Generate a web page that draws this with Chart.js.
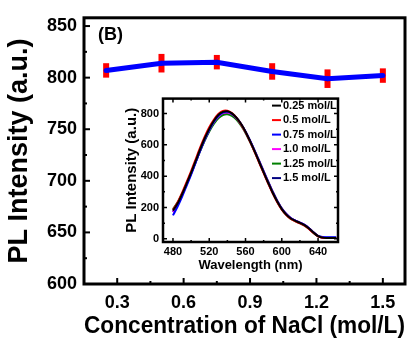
<!DOCTYPE html>
<html>
<head>
<meta charset="utf-8">
<script src="https://cdn.jsdelivr.net/npm/chart.js@4.4.0/dist/chart.umd.min.js"></script>
<style>
  body { margin: 0; background: #fff; }
  #wrap { position: relative; width: 416px; height: 346px; }
  #main-chart { position: absolute; left: 0; top: 0; }
  #inset-chart { position: absolute; left: 112px; top: 88px; }
</style>
</head>
<body>
<div id="wrap">
  <canvas id="main-chart" width="416" height="346"></canvas>
  <canvas id="inset-chart" width="232" height="190"></canvas>
</div>
<script>
// PL peak intensity vs NaCl concentration
const concentrations = [0.25, 0.5, 0.75, 1.0, 1.25, 1.5];
const plIntensity = [807, 814, 815, 806, 799, 802];
const plError = [7, 9, 7, 8, 9, 7];
const concTicks = [0.3, 0.6, 0.9, 1.2, 1.5];
const intensityTicks = [600, 650, 700, 750, 800, 850];

// emission spectra for each concentration
const wavelengths = [480, 485, 490, 495, 500, 505, 510, 515, 520, 525, 530, 535, 540, 545, 550, 555, 560, 565,
    570, 575, 580, 585, 590, 595, 600, 605, 610, 615, 620, 625, 630, 635, 640, 645, 650, 655, 660];
const spectrumLabels = ['0.25 mol/L', '0.5 mol/L', '0.75 mol/L', '1.0 mol/L', '1.25 mol/L', '1.5 mol/L'];
const spectrum025 = [180, 225, 285, 352, 422, 497, 572, 642, 702, 752, 790, 810, 814, 801, 774, 734, 684, 624,
    560, 492, 424, 358, 294, 238, 190, 155, 130, 115, 102, 88, 66, 40, 18, 8, 6, 6, 6];
const spectrum05 = [185, 232, 293, 362, 433, 508, 583, 652, 712, 760, 797, 817, 818, 803, 774, 732, 681, 620,
    555, 487, 419, 353, 290, 234, 187, 152, 127, 112, 99, 85, 63, 37, 16, 7, 5, 5, 5];
const spectrum075 = [150, 205, 268, 338, 410, 487, 563, 634, 695, 746, 784, 806, 811, 799, 773, 734, 685, 626,
    562, 495, 427, 361, 297, 240, 192, 157, 131, 116, 103, 89, 67, 41, 19, 12, 11, 11, 11];
const spectrum10 = [172, 220, 280, 348, 418, 492, 566, 635, 695, 744, 781, 802, 806, 795, 770, 731, 682, 624,
    561, 494, 427, 361, 297, 240, 192, 157, 131, 116, 103, 89, 67, 41, 18, 8, 6, 6, 6];
const spectrum125 = [190, 232, 288, 352, 419, 490, 561, 627, 685, 733, 769, 790, 795, 785, 761, 723, 676, 619,
    557, 491, 424, 358, 294, 237, 189, 153, 128, 113, 100, 86, 64, 38, 16, 7, 5, 5, 5];
const spectrum15 = [172, 220, 280, 348, 417, 490, 563, 632, 692, 741, 778, 798, 803, 793, 769, 731, 684, 627,
    565, 499, 432, 366, 302, 244, 195, 159, 133, 117, 104, 90, 68, 42, 19, 9, 7, 7, 7];
const wavelengthTicks = [480, 520, 560, 600, 640];
const spectrumTicks = [0, 200, 400, 600, 800];

const spectra = [spectrum025, spectrum05, spectrum075, spectrum10, spectrum125, spectrum15];
const spectrumColors = ['#000000', '#ff0000', '#0000ff', '#ff00ff', '#008000', '#000080'];

Chart.defaults.font.family = 'Arial, "Liberation Sans", sans-serif';
Chart.defaults.font.weight = 'bold';
Chart.defaults.color = '#000';

// box around the plot area with inward major/minor ticks
function framePlugin(opts) {
    return {
        id: 'frame',
        afterDatasetsDraw(chart) {
            const { ctx, chartArea: a, scales: { x, y } } = chart;
            const xs = x.ticks.map(t => t.value);
            const ys = y.ticks.map(t => t.value);
            ctx.save();
            ctx.strokeStyle = '#000';
            ctx.lineWidth = opts.tickWidth;
            const tickX = (v, len) => {
                const px = x.getPixelForValue(v);
                ctx.beginPath();
                ctx.moveTo(px, a.bottom);
                ctx.lineTo(px, a.bottom - len);
                if (opts.mirror) {
                    ctx.moveTo(px, a.top);
                    ctx.lineTo(px, a.top + len);
                }
                ctx.stroke();
            };
            const tickY = (v, len) => {
                const py = y.getPixelForValue(v);
                ctx.beginPath();
                ctx.moveTo(a.left, py);
                ctx.lineTo(a.left + len, py);
                if (opts.mirror) {
                    ctx.moveTo(a.right, py);
                    ctx.lineTo(a.right - len, py);
                }
                ctx.stroke();
            };
            xs.forEach(v => tickX(v, opts.major));
            xs.slice(1).forEach((v, i) => tickX((v + xs[i]) / 2, opts.minor));
            ys.forEach(v => tickY(v, opts.major));
            ys.slice(1).forEach((v, i) => tickY((v + ys[i]) / 2, opts.minor));
            ctx.lineWidth = opts.lineWidth;
            ctx.strokeRect(a.left, a.top, a.right - a.left, a.bottom - a.top);
            ctx.restore();
        }
    };
}

// red error bars, drawn under the line
const errorBars = {
    id: 'errorBars',
    beforeDatasetsDraw(chart) {
        const { ctx, scales: { x, y } } = chart;
        ctx.save();
        ctx.strokeStyle = '#ff0000';
        ctx.lineWidth = 6;
        concentrations.forEach((c, i) => {
            const px = x.getPixelForValue(c);
            ctx.beginPath();
            ctx.moveTo(px, y.getPixelForValue(plIntensity[i] - plError[i]));
            ctx.lineTo(px, y.getPixelForValue(plIntensity[i] + plError[i]));
            ctx.stroke();
        });
        ctx.restore();
    }
};

const panelLabel = {
    id: 'panelLabel',
    afterDraw(chart) {
        const { ctx } = chart;
        ctx.save();
        ctx.font = 'bold 18px Arial, "Liberation Sans", sans-serif';
        ctx.fillStyle = '#000';
        ctx.textBaseline = 'middle';
        ctx.fillText('(B)', 98, 35);
        ctx.restore();
    }
};

// legend drawn inside the inset plot, top right
const insetLegend = {
    id: 'insetLegend',
    afterDraw(chart) {
        const { ctx, chartArea: a } = chart;
        ctx.save();
        ctx.font = 'bold 11px Arial, "Liberation Sans", sans-serif';
        ctx.textBaseline = 'middle';
        ctx.lineWidth = 2;
        chart.data.datasets.forEach((ds, i) => {
            const py = a.top + 7 + i * 14.5;
            ctx.strokeStyle = ds.borderColor;
            ctx.beginPath();
            ctx.moveTo(a.right - 66, py);
            ctx.lineTo(a.right - 57, py);
            ctx.stroke();
            ctx.fillStyle = '#000';
            ctx.fillText(ds.label, a.right - 55, py);
        });
        ctx.restore();
    }
};

const setTicks = values => scale => { scale.ticks = values.map(v => ({ value: v })); };

const mainChart = new Chart(document.getElementById('main-chart'), {
    type: 'line',
    data: {
        datasets: [{
            data: concentrations.map((c, i) => ({ x: c, y: plIntensity[i] })),
            borderColor: '#0000ff',
            backgroundColor: '#0000ff',
            borderWidth: 5,
            pointRadius: 2.5,
            pointBorderWidth: 0,
            tension: 0
        }]
    },
    options: {
        responsive: false,
        animation: false,
        layout: { padding: { top: 14, right: 11, left: 0, bottom: 0 } },
        plugins: { legend: { display: false }, tooltip: { enabled: false } },
        scales: {
            x: {
                type: 'linear',
                min: 0.15,
                max: 1.6,
                afterBuildTicks: setTicks(concTicks),
                afterFit: s => { s.height = 62; },
                grid: { display: false, drawTicks: false },
                border: { display: false },
                ticks: {
                    font: { size: 18, weight: 'bold' },
                    padding: 8,
                    maxRotation: 0,
                    callback: v => v.toFixed(1)
                },
                title: {
                    display: true,
                    text: 'Concentration of NaCl (mol/L)',
                    font: { size: 23.5, weight: 'bold' },
                    padding: { bottom: 5, top: 0 }
                }
            },
            y: {
                min: 600,
                max: 858,
                afterBuildTicks: setTicks(intensityTicks),
                afterFit: s => { s.width = 84; },
                grid: { display: false, drawTicks: false },
                border: { display: false },
                ticks: { font: { size: 18, weight: 'bold' }, padding: 7 },
                title: {
                    display: true,
                    text: 'PL Intensity (a.u.)',
                    font: { size: 27, weight: 'bold' },
                    padding: { top: 3, bottom: 0 }
                }
            }
        }
    },
    plugins: [errorBars, framePlugin({ lineWidth: 3, tickWidth: 2, major: 6, minor: 3, mirror: false }), panelLabel]
});

const insetChart = new Chart(document.getElementById('inset-chart'), {
    type: 'line',
    data: {
        datasets: spectra.map((s, i) => ({
            label: spectrumLabels[i],
            data: wavelengths.map((w, j) => ({ x: w, y: s[j] })),
            borderColor: spectrumColors[i],
            borderWidth: 2,
            pointRadius: 0,
            tension: 0.3
        }))
    },
    options: {
        responsive: false,
        animation: false,
        layout: { padding: { top: 9, right: 6, left: 0, bottom: 0 } },
        plugins: { legend: { display: false }, tooltip: { enabled: false } },
        scales: {
            x: {
                type: 'linear',
                min: 469,
                max: 662,
                afterBuildTicks: setTicks(wavelengthTicks),
                afterFit: s => { s.height = 36; },
                grid: { display: false, drawTicks: false },
                border: { display: false },
                ticks: { font: { size: 11, weight: 'bold' }, padding: 3, maxRotation: 0 },
                title: {
                    display: true,
                    text: 'Wavelength (nm)',
                    font: { size: 13, weight: 'bold' },
                    padding: { bottom: 5, top: 0 }
                }
            },
            y: {
                min: -20,
                max: 895,
                afterBuildTicks: setTicks(spectrumTicks),
                afterFit: s => { s.width = 51; },
                grid: { display: false, drawTicks: false },
                border: { display: false },
                ticks: { font: { size: 11, weight: 'bold' }, padding: 4 },
                title: {
                    display: true,
                    text: 'PL Intensity (a.u.)',
                    font: { size: 15, weight: 'bold' },
                    padding: { top: 11, bottom: 0 }
                }
            }
        }
    },
    plugins: [framePlugin({ lineWidth: 2.5, tickWidth: 1.5, major: 4, minor: 2, mirror: true }), insetLegend]
});
</script>
</body>
</html>
